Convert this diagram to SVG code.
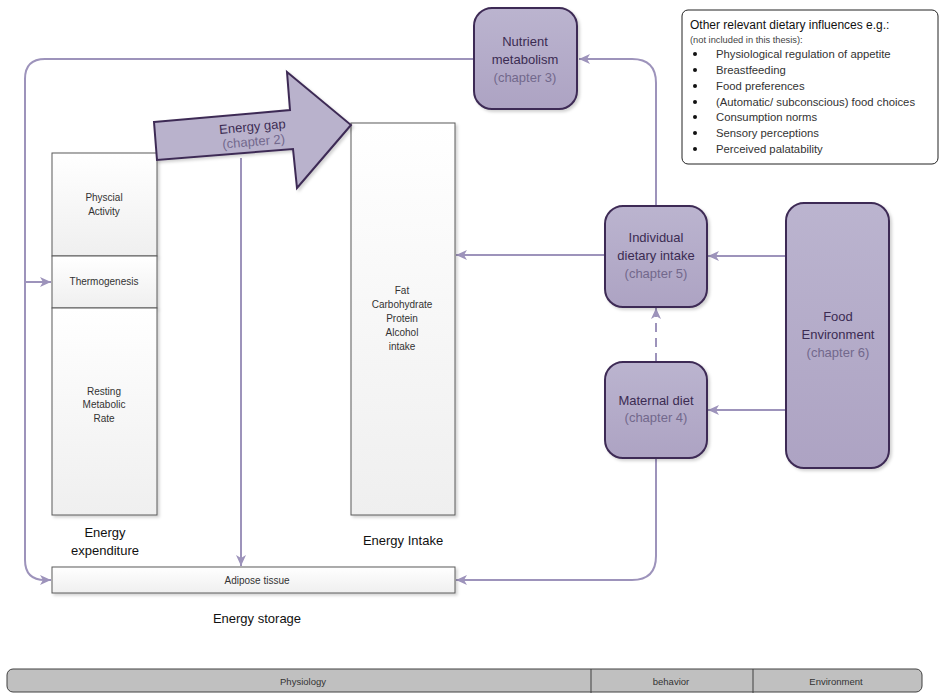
<svg xmlns="http://www.w3.org/2000/svg" width="939" height="693" viewBox="0 0 939 693">
<defs>
<linearGradient id="gNode" x1="0" y1="0" x2="0" y2="1"><stop offset="0" stop-color="#bbb4cf"/><stop offset="1" stop-color="#ada3c3"/></linearGradient>
<linearGradient id="gBox" x1="0" y1="0" x2="0" y2="1"><stop offset="0" stop-color="#ffffff"/><stop offset="1" stop-color="#efefef"/></linearGradient>
<filter id="sh" x="-10%" y="-10%" width="130%" height="130%"><feDropShadow dx="2" dy="2" stdDeviation="1.5" flood-color="#000" flood-opacity="0.18"/></filter>
<marker id="ah" markerUnits="userSpaceOnUse" markerWidth="12" markerHeight="10" refX="11" refY="5" orient="auto"><path d="M0,0 L11,5 L0,10 L3,5 z" fill="#9d93bb"/></marker>
<style>
.node{fill:url(#gNode);stroke:#3e2b55;stroke-width:2;filter:url(#sh)}
.box{fill:url(#gBox);stroke:#5a5a5a;stroke-width:1;filter:url(#sh)}
.con{fill:none;stroke:#9d93bb;stroke-width:2}
.t{font-family:"Liberation Sans",Arial,sans-serif;text-anchor:middle}
.nt{font-size:13px;fill:#3b2b52}
.ch{font-size:13px;fill:#72688c}
.st{font-size:10px;fill:#333}
.lb{font-size:13px;fill:#111}
.it{font-family:"Liberation Sans",Arial,sans-serif;font-size:11.3px;fill:#333}
.bar{font-size:9.5px;fill:#333}
</style>
</defs>
<rect width="939" height="693" fill="#fff"/>

<g id="connectors">
<path class="con" d="M474,59 H45 Q25,59 25,79 V560 Q25,580 45,580 H51" marker-end="url(#ah)"/>
<path class="con" d="M25,282 H51" marker-end="url(#ah)"/>
<path class="con" d="M656,206 V83 Q656,59 632,59 H579" marker-end="url(#ah)"/>
<path class="con" d="M605,255 H456" marker-end="url(#ah)"/>
<path class="con" d="M786,256 H708" marker-end="url(#ah)"/>
<path class="con" d="M786,410 H708" marker-end="url(#ah)"/>
<path class="con" d="M656,362 V308" stroke-dasharray="9,6" marker-end="url(#ah)"/>
<path class="con" d="M656,458 V556 Q656,580 632,580 H456" marker-end="url(#ah)"/>
<path class="con" d="M241,158 V566" marker-end="url(#ah)"/>
</g>

<g id="expenditure">
<rect class="box" x="52" y="153" width="105" height="103"/>
<text class="t st" x="104" y="201">Physcial</text>
<text class="t st" x="104" y="215">Activity</text>
<rect class="box" x="52" y="256" width="105" height="52"/>
<text class="t st" x="104" y="285">Thermogenesis</text>
<rect class="box" x="52" y="308" width="105" height="207"/>
<text class="t st" x="104" y="395">Resting</text>
<text class="t st" x="104" y="408">Metabolic</text>
<text class="t st" x="104" y="422">Rate</text>
<text class="t lb" x="105" y="537">Energy</text>
<text class="t lb" x="105" y="555">expenditure</text>
</g>

<g id="intake">
<rect class="box" x="351" y="123" width="104" height="392"/>
<text class="t st" x="402" y="294">Fat</text>
<text class="t st" x="402" y="308">Carbohydrate</text>
<text class="t st" x="402" y="322">Protein</text>
<text class="t st" x="402" y="336">Alcohol</text>
<text class="t st" x="402" y="350">intake</text>
<text class="t lb" x="403" y="545">Energy Intake</text>
</g>

<g id="adipose">
<rect class="box" x="52" y="567" width="403" height="26"/>
<text class="t st" x="257" y="584">Adipose tissue</text>
<text class="t lb" x="257" y="623">Energy storage</text>
</g>

<g id="energy-gap">
<polygon points="154,122 290,110 287,72 351,125 297,188 293,149 157,160" fill="#b9b2cc" stroke="#3e2b55" stroke-width="2" filter="url(#sh)"/>
<g transform="rotate(-5 253 134)">
<text class="t nt" x="253" y="131">Energy gap</text>
<text class="t ch" x="253" y="146">(chapter 2)</text>
</g>
</g>

<g id="nutrient">
<rect class="node" x="474" y="8" width="103" height="101" rx="18"/>
<text class="t nt" x="525" y="46">Nutrient</text>
<text class="t nt" x="525" y="64">metabolism</text>
<text class="t ch" x="525" y="82">(chapter 3)</text>
</g>

<g id="individual">
<rect class="node" x="605" y="206" width="102" height="101" rx="18"/>
<text class="t nt" x="656" y="242">Individual</text>
<text class="t nt" x="656" y="260">dietary intake</text>
<text class="t ch" x="656" y="278">(chapter 5)</text>
</g>

<g id="maternal">
<rect class="node" x="605" y="362" width="102" height="96" rx="18"/>
<text class="t nt" x="656" y="405">Maternal diet</text>
<text class="t ch" x="656" y="422">(chapter 4)</text>
</g>

<g id="food-environment">
<rect class="node" x="786" y="203" width="103" height="265" rx="18"/>
<text class="t nt" x="838" y="321">Food</text>
<text class="t nt" x="838" y="339">Environment</text>
<text class="t ch" x="838" y="357">(chapter 6)</text>
</g>

<g id="other-influences">
<rect x="682" y="10" width="256" height="154" rx="6" fill="#fff" stroke="#222" stroke-width="1"/>
<text x="690" y="29" font-family="'Liberation Sans',Arial,sans-serif" font-size="12" fill="#111">Other relevant dietary influences e.g.:</text>
<text x="690" y="43" font-family="'Liberation Sans',Arial,sans-serif" font-size="9.3" fill="#444">(not included in this thesis):</text>
<g fill="#111">
<circle cx="695" cy="54" r="2"/><circle cx="695" cy="70" r="2"/><circle cx="695" cy="86" r="2"/><circle cx="695" cy="102" r="2"/><circle cx="695" cy="117" r="2"/><circle cx="695" cy="133" r="2"/><circle cx="695" cy="149" r="2"/>
</g>
<text class="it" x="716" y="58">Physiological regulation of appetite</text>
<text class="it" x="716" y="74">Breastfeeding</text>
<text class="it" x="716" y="90">Food preferences</text>
<text class="it" x="716" y="106">(Automatic/ subconscious) food choices</text>
<text class="it" x="716" y="121">Consumption norms</text>
<text class="it" x="716" y="137">Sensory perceptions</text>
<text class="it" x="716" y="153">Perceived palatability</text>
</g>

<g id="domain-bar">
<rect x="7" y="669" width="915" height="23" rx="6" fill="#c0c0c0" stroke="#404040" stroke-width="1"/>
<line x1="591" y1="669" x2="591" y2="693" stroke="#404040" stroke-width="1"/>
<line x1="753" y1="669" x2="753" y2="693" stroke="#404040" stroke-width="1"/>
<text class="t bar" x="303" y="685">Physiology</text>
<text class="t bar" x="671" y="685">behavior</text>
<text class="t bar" x="836" y="685">Environment</text>
</g>
</svg>
